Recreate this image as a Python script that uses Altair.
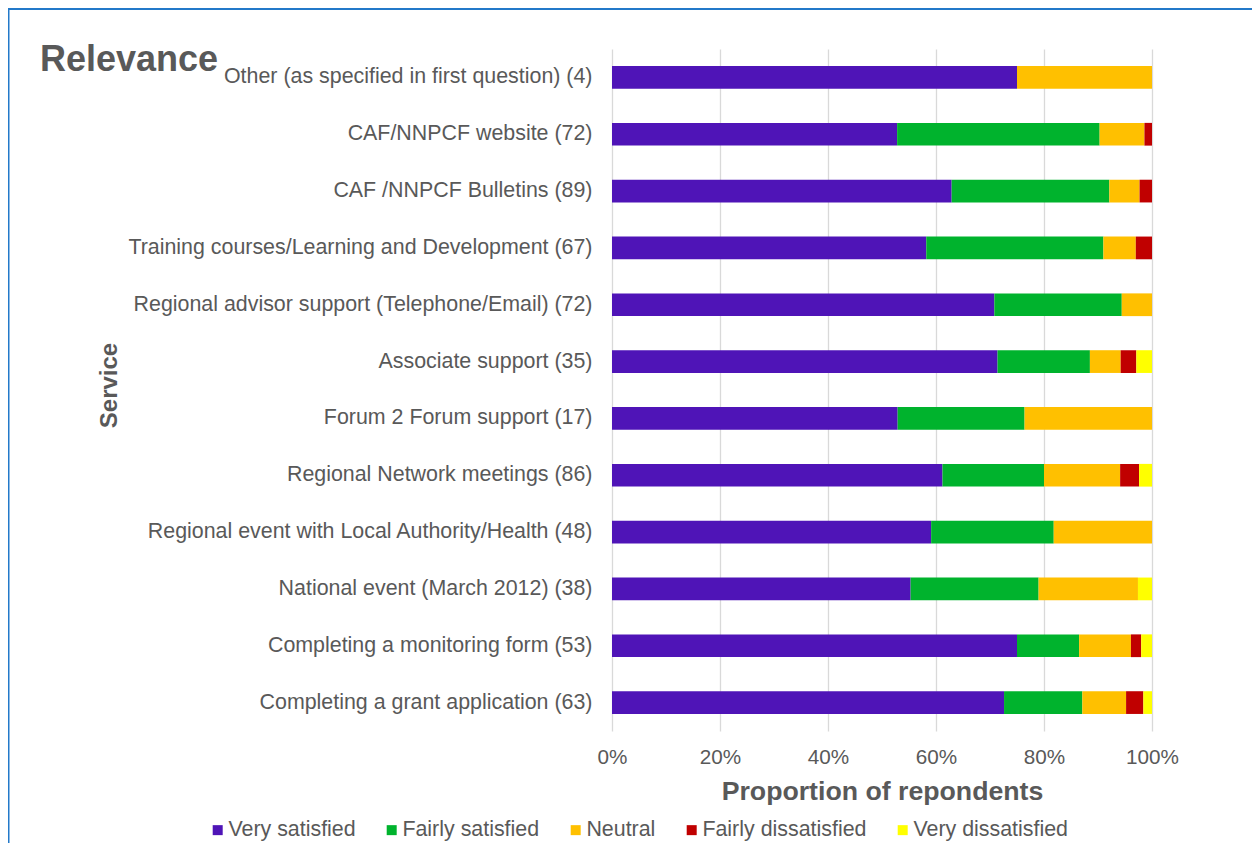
import altair as alt
import pandas as pd

services = [
    "Other (as specified in first question) (4)",
    "CAF/NNPCF website (72)",
    "CAF /NNPCF Bulletins (89)",
    "Training courses/Learning and Development (67)",
    "Regional advisor support (Telephone/Email) (72)",
    "Associate support (35)\u00a0",
    "Forum 2 Forum support (17)\u00a0",
    "Regional Network meetings (86)",
    "Regional event with Local Authority/Health (48)",
    "National event (March 2012) (38)",
    "Completing a monitoring form (53)",
    "Completing a grant application (63)",
]
very_satisfied = [75.0, 52.8, 62.9, 58.2, 70.8, 71.4, 52.9, 61.2, 59.1, 55.3, 75.0, 72.6]
fairly_satisfied = [0.0, 37.5, 29.2, 32.8, 23.6, 17.1, 23.5, 18.8, 22.7, 23.7, 11.5, 14.5]
neutral = [25.0, 8.3, 5.6, 6.0, 5.6, 5.7, 23.6, 14.1, 18.2, 18.4, 9.6, 8.1]
fairly_dissatisfied = [0.0, 1.4, 2.3, 3.0, 0.0, 2.9, 0.0, 3.5, 0.0, 0.0, 1.9, 3.2]
very_dissatisfied = [0.0, 0.0, 0.0, 0.0, 0.0, 2.9, 0.0, 2.4, 0.0, 2.6, 2.0, 1.6]

levels = ["Very satisfied", "Fairly satisfied", "Neutral", "Fairly dissatisfied", "Very dissatisfied"]
colors = ["#4F14B7", "#00B32D", "#FFC000", "#C00000", "#FFFF00"]
x_ticks = [0, 20, 40, 60, 80, 100]

series = [very_satisfied, fairly_satisfied, neutral, fairly_dissatisfied, very_dissatisfied]
rows = []
for i, (lvl, vals) in enumerate(zip(levels, series)):
    for s, v in zip(services, vals):
        rows.append({"service": s, "level": lvl, "order": i, "pct": v})
df = pd.DataFrame(rows)

FONT = "Liberation Sans"
TXT = "#595959"

bars = alt.Chart(df).mark_bar().encode(
    x=alt.X(
        "pct:Q",
        stack="zero",
        scale=alt.Scale(domain=[0, 100], nice=False),
        axis=alt.Axis(
            values=x_ticks,
            labelExpr="datum.value + '%'",
            title="Proportion of repondents",
            titleFontSize=26.7,
            titleFontWeight="bold",
            titleColor=TXT,
            titleY=60,
            titleBaseline="middle",
            labelFontSize=20.7,
            labelColor=TXT,
            labelBaseline="middle",
            labelPadding=26,
            ticks=False,
            tickSize=0,
            domain=False,
            grid=True,
            gridColor="#D9D9D9",
            gridWidth=1.3,
            labelFlush=False,
        ),
    ),
    y=alt.Y(
        "service:N",
        sort=services,
        scale=alt.Scale(paddingInner=0.6, paddingOuter=0.3),
        axis=alt.Axis(
            title="Service",
            titleFontSize=24,
            titleFontWeight="bold",
            titleColor=TXT,
            titleX=-503,
            titleY=336,
            titleAngle=270,
            titleAlign="center",
            titleBaseline="middle",
            labelFontSize=21.4,
            labelColor=TXT,
            labelPadding=20,
            labelLimit=700,
            ticks=False,
            tickSize=0,
            domain=False,
            grid=False,
        ),
    ),
    color=alt.Color(
        "level:N",
        scale=alt.Scale(domain=levels, range=colors),
        legend=alt.Legend(
            title=None,
            orient="none",
            direction="horizontal",
            legendX=-405,
            legendY=770,
            symbolType="square",
            symbolSize=100,
            symbolStrokeWidth=0,
            labelFontSize=21.4,
            labelColor=TXT,
            labelOffset=0,
            columnPadding=25,
            labelLimit=400,
        ),
    ),
    order=alt.Order("order:Q"),
)

frame = alt.Chart(alt.Data(values=[{"k": 1}])).mark_rect(
    fillOpacity=0, stroke="#2379C9", strokeWidth=2
).encode(
    x=alt.value(-603.5), x2=alt.value(700), y=alt.value(-40), y2=alt.value(900)
)

chart = alt.layer(frame, bars).properties(
    width=540,
    height=682,
    autosize=alt.AutoSizeParams(type="none"),
    padding={"left": 604, "top": 41, "right": 100, "bottom": 112},
    title=alt.TitleParams(
        text="Relevance",
        anchor="start",
        frame="group",
        fontSize=36,
        fontWeight="bold",
        color=TXT,
        font=FONT,
        baseline="alphabetic",
        offset=0,
        dx=-572,
        dy=99,
    ),
).configure(font=FONT).configure_view(stroke=None)

chart.save("out.html", embed_options={"renderer": "svg", "actions": False})
